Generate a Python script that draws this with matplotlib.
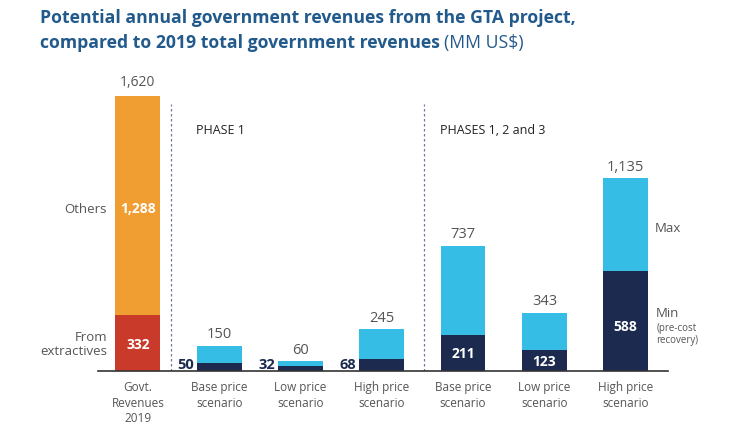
import matplotlib.pyplot as plt

plt.rcParams['font.family'] = ['Open Sans', 'DejaVu Sans']

# data (MM US$)
labels = ['Govt.\nRevenues\n2019', 'Base price\nscenario', 'Low price\nscenario', 'High price\nscenario',
          'Base price\nscenario', 'Low price\nscenario', 'High price\nscenario']
govt_extractives = 332
govt_others = 1288
govt_total = 1620
min_vals = [50, 32, 68, 211, 123, 588]
max_vals = [150, 60, 245, 737, 343, 1135]

orange = '#F09D32'
red = '#C93A2A'
light = '#35BDE6'
navy = '#1B2A4E'
grey = '#555555'
title_col = '#235A8C'

fig = plt.figure(figsize=(7.46, 4.35), dpi=100)
ax = fig.add_axes([98 / 746, 63 / 435, 570 / 746, 312 / 435])
ax.set_xlim(-0.49, 6.52)
ax.set_ylim(0, 312 / 0.17)
ax.axis('off')

w = 0.55
xs = list(range(7))

# govt revenues bar
ax.bar(0, govt_extractives, w, color=red)
ax.bar(0, govt_others, w, bottom=govt_extractives, color=orange)
ax.text(0, govt_total + 40, f'{govt_total:,}', ha='center', va='bottom', fontsize=10, color=grey)
ax.text(0, govt_extractives + govt_others / 2 - 20, f'{govt_others:,}', ha='center', va='center',
        fontsize=10, color='white', fontweight='bold')
ax.text(0, govt_extractives / 2 - 10, f'{govt_extractives}', ha='center', va='center',
        fontsize=10, color='white', fontweight='bold')
ax.text(-0.38, 953, 'Others', ha='right', va='center', fontsize=9.5, color=grey)
ax.text(-0.38, 160, 'From\nextractives', ha='right', va='center', fontsize=9.5, color=grey,
        linespacing=1.1)

# scenario bars
for i, (lo, hi) in enumerate(zip(min_vals, max_vals)):
    x = xs[i + 1]
    ax.bar(x, lo, w, color=navy)
    ax.bar(x, hi - lo, w, bottom=lo, color=light)
    ax.text(x, hi + 25, f'{hi:,}', ha='center', va='bottom', fontsize=10.5, color=grey)
    if i < 3:
        ax.text(x - w / 2 - 0.04, 0, f'{lo}', ha='right', va='bottom', fontsize=10.5,
                color=navy, fontweight='bold')
    else:
        ypos = lo / 2 if i < 5 else lo * 0.45
        ax.text(x, ypos, f'{lo}', ha='center', va='center', fontsize=10,
                color='white', fontweight='bold')

ax.text(6 + w / 2 + 0.08, 845, 'Max', ha='left', va='center', fontsize=9.5, color=grey)
ax.text(6 + w / 2 + 0.1, 305, 'Min', ha='left', va='bottom', fontsize=9.5, color=grey)
ax.text(6 + w / 2 + 0.1, 290, '(pre-cost\nrecovery)', ha='left', va='top', fontsize=7,
        color=grey, linespacing=1.15)

# separators and phase headers
for xv in [0.41, 3.52]:
    ax.plot([xv, xv], [0, 1570], color='#6B7A99', lw=0.9, ls=(0, (2, 2)))
ax.text(0.72, 1420, 'PHASE 1', ha='left', va='center', fontsize=9, color='#222222')
ax.text(3.72, 1420, 'PHASES 1, 2 and 3', ha='left', va='center', fontsize=9, color='#222222')

# baseline
ax.plot([-0.49, 6.52], [0, 0], color='#333333', lw=1.2, clip_on=False)

# category labels
for x, lab in zip(xs, labels):
    ax.text(x, -55, lab, ha='center', va='top', fontsize=8.5, color=grey, linespacing=1.25)

fig.text(40 / 746, 1 - 18 / 435, 'Potential annual government revenues from the GTA project,',
         ha='left', va='center', fontsize=12.7, fontweight='bold', color=title_col)
t2 = fig.text(40 / 746, 1 - 43 / 435, 'compared to 2019 total government revenues',
              ha='left', va='center', fontsize=12.7, fontweight='bold', color=title_col)
fig.canvas.draw()
bb = t2.get_window_extent()
fig.text(bb.x1 / 746 + 4 / 746, 1 - 43 / 435, '(MM US$)', ha='left', va='center',
         fontsize=12.7, color=title_col)

fig.savefig('out.png', dpi=100)
